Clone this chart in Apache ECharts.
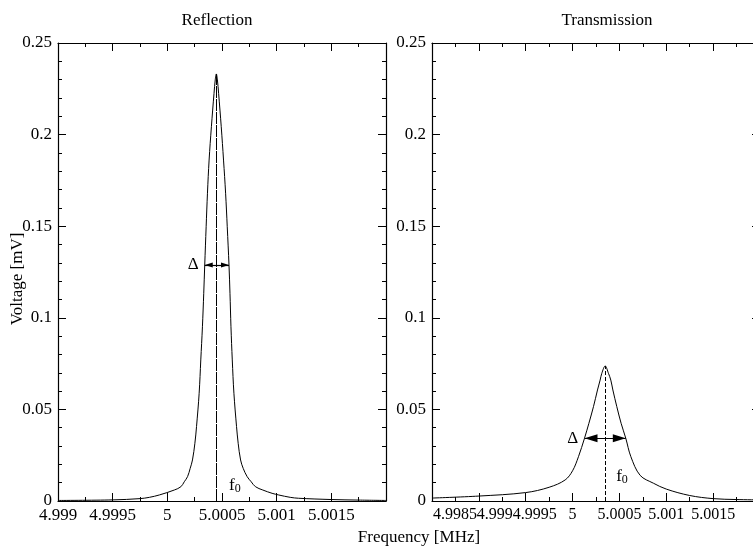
<!DOCTYPE html>
<html>
<head>
<meta charset="utf-8">
<script src="https://cdn.jsdelivr.net/npm/echarts@6/dist/echarts.min.js"></script>
<style>
  html, body { margin: 0; padding: 0; background: #fff; }
  #chart { width: 753px; height: 551px; }
</style>
</head>
<body>
<div id="chart"></div>
<script>
// Reflection trace: frequency [MHz] and voltage [mV]
const reflectionFreq = [4.9990, 4.9995, 4.99975, 4.999836, 4.999927, 5.000064, 5.000124, 5.000155,
  5.000185, 5.000209, 5.000230, 5.000252, 5.000267, 5.000291, 5.000306, 5.000321, 5.000333,
  5.000342, 5.000355, 5.000367, 5.000382, 5.000403, 5.000427, 5.000438, 5.000448,
  5.000458, 5.000469, 5.000493, 5.000514, 5.000533, 5.000548, 5.000564, 5.000573, 5.000582,
  5.000594, 5.000609, 5.000633, 5.000648, 5.000670, 5.000694, 5.000730, 5.000767, 5.000806,
  5.000873, 5.000958, 5.001018, 5.001124, 5.0012, 5.0015, 5.00175, 5.0020];
const reflectionVolt = [0.0003, 0.0006, 0.0013, 0.0020, 0.0033, 0.0060, 0.0078, 0.0105,
  0.0133, 0.0178, 0.0224, 0.0315, 0.0406, 0.0588, 0.0770, 0.0951, 0.1134,
  0.1288, 0.1497, 0.1680, 0.1861, 0.2043, 0.2225, 0.2298, 0.2331,
  0.2298, 0.2225, 0.2043, 0.1861, 0.1680, 0.1497, 0.1288, 0.1134, 0.0951,
  0.0770, 0.0588, 0.0406, 0.0315, 0.0224, 0.0178, 0.0133, 0.0105, 0.0078,
  0.0060, 0.0042, 0.0033, 0.0020, 0.0015, 0.0008, 0.0005, 0.0003];

// Transmission trace: frequency [MHz] and voltage [mV]
const transmissionFreq = [4.9985, 4.9990, 4.9995, 4.99975, 4.999921, 5.0000, 5.000063, 5.000127,
  5.000174, 5.000223, 5.000266, 5.000294, 5.000312, 5.000348, 5.000383, 5.000408, 5.000430,
  5.000472, 5.000518, 5.000568, 5.000622, 5.000721, 5.000863, 5.0010, 5.00125, 5.0015,
  5.00175, 5.0020];
const transmissionVolt = [0.0016, 0.0027, 0.0046, 0.0075, 0.0115, 0.0165, 0.0242, 0.0342,
  0.0424, 0.0515, 0.0606, 0.0660, 0.0697, 0.0737, 0.0697, 0.0660, 0.0606,
  0.0515, 0.0424, 0.0342, 0.0242, 0.0140, 0.0097, 0.0065, 0.0030, 0.0013,
  0.0008, 0.0006];

// Resonance frequency and peak height of each trace
const reflectionResonance = [5.000448, 0.2331];
const transmissionResonance = [5.000348, 0.0737];

// Linewidth markers: [from frequency, to frequency, voltage level]
const reflectionWidth = [5.000342, 5.000564, 0.1288];
const transmissionWidth = [5.000127, 5.000568, 0.0342];

// Where the Δ and f0 annotations sit, in data coordinates
const reflectionDeltaAt = [5.000236, 0.129];
const reflectionF0At = [5.000564, 0.0087];
const transmissionDeltaAt = [5.000001, 0.0342];
const transmissionF0At = [5.000465, 0.0136];

// Tick labels
const yTickLabels = ['0', '0.05', '0.1', '0.15', '0.2', '0.25'];
const reflectionXLabels = ['4.999', '4.9995', '5', '5.0005', '5.001', '5.0015'];
const transmissionXLabels = ['4.9985', '4.999', '4.9995', '5', '5.0005', '5.001', '5.0015'];

const FONT = 'Liberation Serif';
const INK = '#000';
const PANEL_W = 328;
const fmt = v => String(Number(v.toFixed(5)));
const zip = (a, b) => a.map((x, i) => [x, b[i]]);

// The crowded labels on the transmission axis sit to the right of their ticks (pixels)
const labelNudge = { '4.9985': 23, '4.999': 16, '4.9995': 9 };

const axisCommon = {
  type: 'value',
  axisLine: { show: true, onZero: false, lineStyle: { color: INK, width: 1.2 } },
  axisTick: { show: true, inside: true, length: 8, lineStyle: { color: INK, width: 1 } },
  splitLine: { show: false },
  minorSplitLine: { show: false }
};
const labelText = { color: INK, fontFamily: FONT, fontSize: 17, textBorderWidth: 0, opacity: 1 };

// Bottom/top frame axes carry the ticks; the labels ride on two bare axes
// (alternate labels on each) so neighbouring texts never compete for space.
function xAxesFor(grid, min, shown, nudge, fontSize) {
  const scale = { min: min, max: 5.002, interval: 0.0005 };
  const minor = { show: true, splitNumber: 2, length: 4, lineStyle: { color: INK, width: 1 } };
  const perPx = (scale.max - min) / PANEL_W;
  const labelAxis = parity => {
    const names = shown.filter((s, i) => i % 2 === parity);
    const at = names.map(s => Number(s) + (nudge[s] || 0) * perPx);
    return Object.assign({}, scale, {
      type: 'value', gridIndex: grid, position: 'bottom',
      axisLine: { show: false }, axisTick: { show: false }, minorTick: { show: false },
      splitLine: { show: false },
      axisLabel: Object.assign({}, labelText, {
        show: true, margin: 6, hideOverlap: false, showMinLabel: true, showMaxLabel: true,
        fontSize: fontSize,
        customValues: at,
        formatter: v => {
          let best = 0;
          at.forEach((p, i) => { if (Math.abs(p - v) < Math.abs(at[best] - v)) best = i; });
          return names[best];
        }
      })
    });
  };
  return [
    Object.assign({}, axisCommon, scale, {
      gridIndex: grid, position: 'bottom', minorTick: minor, axisLabel: { show: false }
    }),
    Object.assign({}, axisCommon, scale, {
      gridIndex: grid, position: 'top', minorTick: minor, axisLabel: { show: false }
    }),
    labelAxis(0),
    labelAxis(1)
  ];
}

function yAxesFor(grid) {
  const scale = { min: 0, max: 0.25, interval: 0.05 };
  const minor = { show: true, splitNumber: 5, length: 4, lineStyle: { color: INK, width: 1 } };
  return [
    Object.assign({}, axisCommon, scale, {
      gridIndex: grid, position: 'left', minorTick: minor,
      axisLabel: Object.assign({
        show: true, margin: 6, showMinLabel: true, showMaxLabel: true, hideOverlap: false,
        formatter: v => (yTickLabels.indexOf(fmt(v)) >= 0 ? fmt(v) : '')
      }, labelText)
    }),
    Object.assign({}, axisCommon, scale, {
      gridIndex: grid, position: 'right', minorTick: minor, axisLabel: { show: false }
    })
  ];
}

function panelSeries(xIdx, yIdx, freq, volt, resonance, width, deltaAt, f0At, dash, head) {
  return [
    {
      type: 'line', xAxisIndex: xIdx, yAxisIndex: yIdx,
      data: zip(freq, volt), showSymbol: false, smooth: 0.35,
      lineStyle: { color: INK, width: 1 }, silent: true,
      markLine: {
        silent: true, symbol: 'none', label: { show: false },
        lineStyle: { color: INK, width: 1, type: dash },
        data: [[{ coord: [resonance[0], 0] }, { coord: [resonance[0], resonance[1]] }]]
      }
    },
    {
      type: 'line', xAxisIndex: xIdx, yAxisIndex: yIdx, data: [], silent: true,
      markLine: {
        silent: true, symbol: ['triangle', 'triangle'],
        symbolSize: [head[0], head[1]],
        symbolOffset: [[0, head[1] / 2], [0, head[1] / 2]],
        label: { show: false },
        itemStyle: { color: INK },
        lineStyle: { color: INK, width: 1.2, type: 'solid' },
        data: [[{ coord: [width[0], width[2]] }, { coord: [width[1], width[2]] }]]
      }
    },
    {
      type: 'scatter', xAxisIndex: xIdx, yAxisIndex: yIdx, symbolSize: 0, silent: true,
      itemStyle: { color: INK },
      label: Object.assign({
        show: true,
        rich: {
          f: { fontFamily: FONT, fontSize: 17, color: INK, textBorderWidth: 0 },
          s: { fontFamily: FONT, fontSize: 12, color: INK, textBorderWidth: 0, padding: [7, 0, 0, 0] }
        }
      }, labelText),
      data: [
        { value: deltaAt, label: { position: 'inside', formatter: 'Δ' } },
        { value: f0At, label: { position: 'right', distance: 0, formatter: '{f|f}{s|0}' } }
      ]
    }
  ];
}

const titleFont = '17px "Liberation Serif"';
const chart = echarts.init(document.getElementById('chart'), null, { renderer: 'canvas' });
chart.setOption({
  animation: false,
  backgroundColor: '#fff',
  grid: [
    { left: 58, top: 43, width: PANEL_W, height: 458, outerBoundsMode: 'none', containLabel: false },
    { left: 432, top: 43, width: PANEL_W, height: 458, outerBoundsMode: 'none', containLabel: false }
  ],
  xAxis: [].concat(
    xAxesFor(0, 4.999, reflectionXLabels, {}, 17),
    xAxesFor(1, 4.9985, transmissionXLabels, labelNudge, 16)
  ),
  yAxis: [].concat(yAxesFor(0), yAxesFor(1)),
  series: [].concat(
    panelSeries(0, 0, reflectionFreq, reflectionVolt, reflectionResonance, reflectionWidth,
      reflectionDeltaAt, reflectionF0At, [12, 1], [5, 8]),
    panelSeries(4, 2, transmissionFreq, transmissionVolt, transmissionResonance, transmissionWidth,
      transmissionDeltaAt, transmissionF0At, [4, 2], [8, 13])
  ),
  graphic: [
    { type: 'text', x: 217, y: 21, silent: true,
      style: { text: 'Reflection', font: titleFont, fill: INK, textAlign: 'center', textVerticalAlign: 'middle' } },
    { type: 'text', x: 607, y: 21, silent: true,
      style: { text: 'Transmission', font: titleFont, fill: INK, textAlign: 'center', textVerticalAlign: 'middle' } },
    { type: 'text', x: 419, y: 538, silent: true,
      style: { text: 'Frequency [MHz]', font: titleFont, fill: INK, textAlign: 'center', textVerticalAlign: 'middle' } },
    { type: 'text', x: 18, y: 279, rotation: Math.PI / 2, silent: true,
      style: { text: 'Voltage [mV]', font: titleFont, fill: INK, textAlign: 'center', textVerticalAlign: 'middle' } }
  ]
});
</script>
</body>
</html>
